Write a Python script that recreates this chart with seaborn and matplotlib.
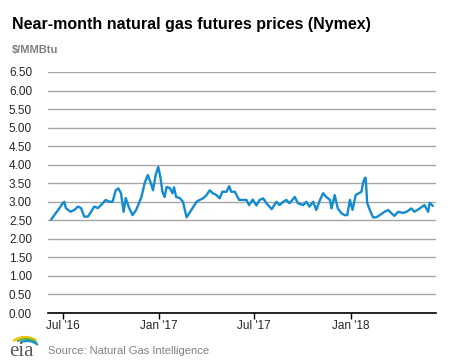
import pandas as pd
import matplotlib
matplotlib.use("Agg")
import matplotlib.pyplot as plt
from matplotlib.patches import Arc
import seaborn as sns

# -------------------------
# Data
# -------------------------
dates = [
    "2016-06-09", "2016-06-15", "2016-06-25", "2016-07-01", "2016-07-04", "2016-07-07",
    "2016-07-16", "2016-07-23", "2016-07-30", "2016-08-05", "2016-08-11", "2016-08-18",
    "2016-08-24", "2016-08-30", "2016-09-06", "2016-09-12", "2016-09-21", "2016-09-28",
    "2016-10-04", "2016-10-10", "2016-10-15", "2016-10-20", "2016-10-25", "2016-10-29",
    "2016-11-04", "2016-11-11", "2016-11-18", "2016-11-28", "2016-12-04", "2016-12-10",
    "2016-12-16", "2016-12-20", "2016-12-25", "2016-12-30", "2017-01-03", "2017-01-07",
    "2017-01-11", "2017-01-15", "2017-01-21", "2017-01-26", "2017-01-29", "2017-02-02",
    "2017-02-09", "2017-02-15", "2017-02-22", "2017-03-03", "2017-03-13", "2017-03-19",
    "2017-03-25", "2017-04-01", "2017-04-07", "2017-04-13", "2017-04-20", "2017-04-26",
    "2017-05-01", "2017-05-09", "2017-05-14", "2017-05-18", "2017-05-25", "2017-06-02",
    "2017-06-09", "2017-06-16", "2017-06-21", "2017-06-28", "2017-07-05", "2017-07-11",
    "2017-07-18", "2017-07-24", "2017-08-03", "2017-08-12", "2017-08-18", "2017-08-25",
    "2017-08-31", "2017-09-06", "2017-09-16", "2017-09-22", "2017-10-02", "2017-10-08",
    "2017-10-14", "2017-10-21", "2017-10-27", "2017-11-03", "2017-11-09", "2017-11-15",
    "2017-11-22", "2017-11-25", "2017-12-01", "2017-12-07", "2017-12-14", "2017-12-20",
    "2017-12-25", "2017-12-30", "2018-01-04", "2018-01-10", "2018-01-16", "2018-01-21",
    "2018-01-24", "2018-01-27", "2018-01-29", "2018-02-01", "2018-02-06", "2018-02-12",
    "2018-02-18", "2018-02-25", "2018-03-06", "2018-03-13", "2018-03-19", "2018-03-25",
    "2018-04-01", "2018-04-10", "2018-04-17", "2018-04-26", "2018-05-02", "2018-05-12",
    "2018-05-21", "2018-05-28", "2018-05-31", "2018-06-06",
]
prices = [
    2.52, 2.64, 2.83, 2.96, 3.00, 2.83,
    2.73, 2.78, 2.87, 2.83, 2.60, 2.60,
    2.73, 2.87, 2.83, 2.91, 3.05, 3.00,
    3.00, 3.31, 3.36, 3.23, 2.73, 3.10,
    2.85, 2.64, 2.78, 3.13, 3.50, 3.72,
    3.50, 3.31, 3.72, 3.94, 3.67, 3.27,
    3.13, 3.40, 3.37, 3.23, 3.39, 3.13,
    3.10, 3.00, 2.58, 2.78, 3.00, 3.05,
    3.09, 3.18, 3.31, 3.23, 3.18, 3.09,
    3.27, 3.27, 3.42, 3.27, 3.27, 3.05,
    3.05, 3.05, 2.91, 3.06, 2.90, 3.05,
    3.09, 2.96, 2.80, 3.00, 2.91, 3.00,
    3.05, 2.96, 3.13, 2.96, 2.91, 3.00,
    2.87, 3.00, 2.78, 3.05, 3.23, 3.13,
    3.05, 2.82, 3.18, 2.82, 2.69, 2.64,
    2.64, 3.05, 2.78, 3.18, 3.23, 3.27,
    3.50, 3.63, 3.65, 2.96, 2.78, 2.58,
    2.58, 2.64, 2.73, 2.78, 2.69, 2.62,
    2.73, 2.70, 2.73, 2.82, 2.73, 2.82,
    2.91, 2.73, 2.97, 2.89,
]
tick_dates = ["2016-07-01", "2017-01-01", "2017-07-01", "2018-01-01"]
tick_labels = ["Jul '16", "Jan '17", "Jul '17", "Jan '18"]
y_ticks = [i * 0.5 for i in range(14)]

df = pd.DataFrame({"date": pd.to_datetime(dates), "price": prices})

# -------------------------
# Figure
# -------------------------
sns.set_style("white")
plt.rcParams["font.family"] = ["Liberation Sans", "DejaVu Sans"]

fig = plt.figure(figsize=(4.77, 3.61), dpi=100)
ax = fig.add_axes([48 / 477, 48 / 361, 388 / 477, 241 / 361])

sns.lineplot(data=df, x="date", y="price", ax=ax, color="#138bd0", linewidth=1.7)

ax.set_xlim(pd.Timestamp("2016-06-03"), pd.Timestamp("2018-06-12"))
ax.set_ylim(0, 6.5)
ax.set_yticks(y_ticks)
ax.set_yticklabels([f"{v:.2f}" for v in y_ticks], fontsize=8.5)
ax.set_xticks(pd.to_datetime(tick_dates))
ax.set_xticklabels(tick_labels, fontsize=8.5)
ax.set_xlabel("")
ax.set_ylabel("")

ax.grid(axis="y", color="#a6a6a6", linewidth=1)
ax.set_axisbelow(True)
for s in ["top", "right", "left"]:
    ax.spines[s].set_visible(False)
ax.spines["bottom"].set_color("black")
ax.spines["bottom"].set_linewidth(1.2)
ax.tick_params(axis="x", bottom=True, length=4, width=1, color="black", pad=1)
ax.tick_params(axis="y", left=False, pad=8)

# -------------------------
# Titles and source
# -------------------------
fig.text(12 / 477, 1 - 25 / 361, "Near-month natural gas futures prices (Nymex)",
         fontsize=11.5, fontweight="bold", va="center", color="black")
fig.text(12 / 477, 1 - 50 / 361, "$/MMBtu", fontsize=8, fontweight="bold",
         va="center", color="#7f7f7f")
fig.text(48 / 477, 1 - 351 / 361, "Source: Natural Gas Intelligence", fontsize=8,
         va="center", color="#808080")

# eia logo
fig.text(9 / 477, 1 - 352 / 361, "eia", fontsize=15, family="Liberation Serif",
         va="center", color="#5a5a5a")
lax = fig.add_axes([8 / 477, 1 - 350 / 361, 32 / 477, 16 / 361])
lax.set_xlim(0, 32)
lax.set_ylim(0, 16)
lax.axis("off")
lax.add_patch(Arc((17, 2), 30, 22, theta1=35, theta2=150, color="#f2c300", lw=1.6))
lax.add_patch(Arc((18, 1), 28, 20, theta1=30, theta2=140, color="#6cb33e", lw=1.6))
lax.add_patch(Arc((19, 0), 26, 18, theta1=25, theta2=130, color="#1a90c8", lw=1.6))

fig.savefig("out.png", dpi=100)
